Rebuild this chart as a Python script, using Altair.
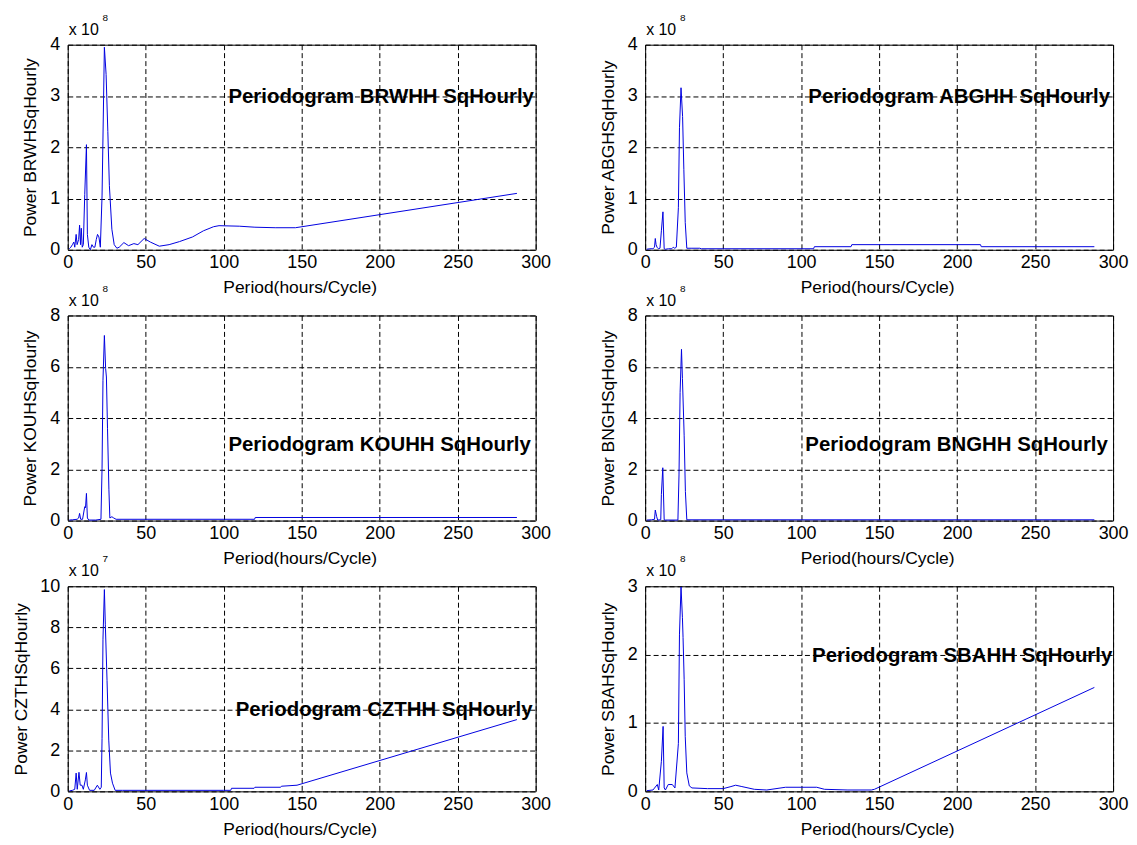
import altair as alt
import pandas as pd

# ---------------- data (period in hours/cycle, power in units of the panel factor) ----------------
X_TICKS = [0, 50, 100, 150, 200, 250, 300]
X_TITLE = "Period(hours/Cycle)"

brw_x = [1, 2, 3, 3.9, 4.5, 5.4, 6, 7, 7.6, 8.2, 8.7, 9.3, 10, 10.9, 12, 12.6, 13.5, 14.5, 15.5, 16.5,
         17.4, 18.3, 19.1, 20, 20.9, 22, 23.5, 24.6, 25.7, 26.7, 28.3, 29.8, 31.5, 33, 36, 39, 42.4, 45,
         49, 53, 58.7, 65, 71.7, 80, 87, 93.5, 97, 110, 120, 133, 146, 288]
brw_y = [0.02, 0.05, 0.1, 0.15, 0.05, 0.3, 0.1, 0.2, 0.48, 0.1, 0.42, 0.05, 0.1, 1.08, 2.05, 0.3, 0.05, 0.0,
         0.1, 0.05, 0.05, 0.2, 0.3, 0.25, 0.05, 1.05, 3.95, 3.42, 2.31, 1.25, 0.4, 0.1, 0.03, 0.05, 0.14, 0.08,
         0.12, 0.1, 0.22, 0.15, 0.07, 0.1, 0.16, 0.25, 0.37, 0.45, 0.47, 0.46, 0.44, 0.43, 0.43, 1.1]

abg_x = [1, 3, 5, 6, 6.5, 7, 7.6, 8.5, 9.5, 10.4, 11.4, 12.2, 13, 15, 17, 18, 19, 20, 21.3, 22, 23, 24,
         24.8, 25.7, 26.7, 30, 35, 36, 108, 108.5, 132, 132.5, 215, 215.5, 288]
abg_y = [0.01, 0.02, 0.02, 0.05, 0.22, 0.1, 0.05, 0.02, 0.03, 0.37, 0.74, 0.02, 0.01, 0.02, 0.02, 0.05, 0.03,
         0.05, 0.82, 2.38, 3.16, 2.6, 1.57, 0.53, 0.03, 0.03, 0.03, 0.02, 0.02, 0.06, 0.06, 0.1, 0.1, 0.06, 0.06]

kou_x = [1, 3, 6, 7, 7.6, 8.3, 9.5, 10.9, 11.4, 12, 12.6, 13.5, 18, 21.3, 22, 22.6, 23.5, 24.3, 24.8, 25.5,
         26.4, 27, 28.3, 29.5, 31, 119.8, 120.2, 288]
kou_y = [0.02, 0.03, 0.05, 0.1, 0.28, 0.05, 0.05, 0.54, 0.5, 1.06, 0.1, 0.02, 0.02, 0.05, 2.04, 5.47, 7.22,
         5.93, 5.6, 3.6, 1.2, 0.1, 0.15, 0.1, 0.05, 0.05, 0.12, 0.12]

bng_x = [1, 4, 6, 6.5, 7.4, 8, 10, 10.4, 11.3, 12.2, 13, 21, 21.7, 22.4, 23.3, 23.9, 25, 25.8, 26.7, 288]
bng_y = [0.02, 0.03, 0.05, 0.41, 0.15, 0.02, 0.03, 1.02, 2.06, 0.03, 0.02, 0.02, 1.78, 5.0, 6.68, 5.54, 3.33,
         1.13, 0.03, 0.03]

czt_x = [1, 3, 4.5, 5.4, 6.1, 7.2, 8, 9.1, 10, 11.3, 12, 12.6, 14, 17, 19, 20.6, 21.5, 22, 22.6, 23.5, 24.1,
         25.2, 26.3, 27.4, 28.7, 30.4, 35, 100, 104.5, 105, 119.5, 120, 136.5, 137, 147, 288]
czt_y = [0.02, 0.05, 0.1, 0.89, 0.1, 0.93, 0.3, 0.3, 0.1, 0.56, 0.92, 0.3, 0.05, 0.05, 0.3, 0.1, 0.2, 2.58,
         7.42, 9.84, 8.15, 5.4, 2.5, 0.89, 0.4, 0.05, 0.05, 0.05, 0.05, 0.15, 0.15, 0.2, 0.2, 0.25, 0.3, 3.5]

sba_x = [1, 5, 7.8, 8.7, 10.4, 11.5, 12.2, 13, 14.8, 17.4, 19.1, 21.3, 22, 23, 23.9, 24.3, 25, 25.7, 26.7,
         28.3, 30, 40, 50, 55, 58, 62, 70, 78, 90, 100, 110, 115, 130, 145, 147, 288]
sba_y = [0.01, 0.02, 0.1, 0.02, 0.44, 0.95, 0.05, 0.02, 0.1, 0.1, 0.05, 0.7, 2.3, 2.99, 2.54, 2.25, 1.64, 0.8,
         0.27, 0.08, 0.05, 0.04, 0.04, 0.07, 0.09, 0.07, 0.03, 0.02, 0.06, 0.06, 0.06, 0.03, 0.02, 0.02, 0.03, 1.52]

series_x = [brw_x, abg_x, kou_x, bng_x, czt_x, sba_x]
series_y = [brw_y, abg_y, kou_y, bng_y, czt_y, sba_y]
y_titles = ["Power BRWHSqHourly", "Power ABGHSqHourly", "Power KOUHSqHourly",
            "Power BNGHSqHourly", "Power CZTHSqHourly", "Power SBAHSqHourly"]
plot_titles = ["Periodogram BRWHH SqHourly", "Periodogram ABGHH SqHourly", "Periodogram KOUHH SqHourly",
               "Periodogram BNGHH SqHourly", "Periodogram CZTHH SqHourly", "Periodogram SBAHH SqHourly"]
y_max = [4, 4, 8, 8, 10, 3]
y_step = [1, 1, 2, 2, 2, 1]
exponents = ["8", "8", "8", "8", "7", "8"]
title_x = [103, 104.6, 103, 102.7, 107.7, 107]
title_y = [3, 3, 3, 3, 4, 2]

# ---------------- styling ----------------
W, H = 470, 206
LINE_BLUE = "#0000e0"
SANS = "Liberation Sans, Arial, Helvetica, sans-serif"


def make_panel(i, anchor=False):
    ymax = y_max[i]
    df = pd.DataFrame({"period": series_x[i], "power": series_y[i]})
    x_enc = alt.X("period:Q",
                  scale=alt.Scale(domain=[0, 300], nice=False, zero=False),
                  axis=alt.Axis(values=X_TICKS, title=X_TITLE, titleX=233, titleY=38,
                                titleBaseline="middle", labelPadding=4, labelFlush=False,
                                labelOverlap=False, format="d"))
    y_enc = alt.Y("power:Q",
                  scale=alt.Scale(domain=[0, ymax], nice=False),
                  axis=alt.Axis(values=list(range(0, ymax + 1, y_step[i])), title=y_titles[i],
                                titleX=-46 if ymax >= 10 else -37, titleY=H / 2, titleAngle=270,
                                titleBaseline="middle", titleAlign="center", labelPadding=8,
                                labelOverlap=False, format="d"))
    line = alt.Chart(df).mark_line(color=LINE_BLUE, strokeWidth=1).encode(x=x_enc, y=y_enc)

    lab = pd.DataFrame({"period": [title_x[i]], "power": [title_y[i]], "label": [plot_titles[i]]})
    txt = alt.Chart(lab).mark_text(align="left", baseline="alphabetic", dy=7, font=SANS, fontSize=20.5,
                                   fontWeight="bold", color="black").encode(x=x_enc, y=y_enc, text="label:N")

    e1 = alt.Chart(pd.DataFrame({"t": ["x 10"]})).mark_text(
        align="left", baseline="alphabetic", font=SANS, fontSize=16, color="black"
    ).encode(x=alt.value(1), y=alt.value(-10), text="t:N")
    e2 = alt.Chart(pd.DataFrame({"t": [exponents[i]]})).mark_text(
        align="left", baseline="alphabetic", font=SANS, fontSize=10, color="black"
    ).encode(x=alt.value(35), y=alt.value(-24), text="t:N")

    layers = [line, txt, e1, e2]
    if anchor:
        a = alt.Chart(pd.DataFrame({"t": [0]})).mark_rule(opacity=0, strokeWidth=1).encode(
            x=alt.value(-59), x2=alt.value(-58), y=alt.value(-34), y2=alt.value(-34))
        layers.append(a)
    return alt.layer(*layers).properties(width=W, height=H)


panels = [make_panel(i, anchor=(i == 0)) for i in range(6)]

chart = alt.concat(*panels, columns=2, spacing={"row": 66, "column": 110}, bounds="flush").properties(
    padding=0, background="white"
).configure_view(
    stroke="black", strokeWidth=1
).configure_axis(
    grid=True, gridColor="black", gridDash=[5, 3], gridWidth=1, gridOpacity=1,
    domain=False, ticks=False, tickSize=0,
    labelFont=SANS, labelFontSize=18, labelColor="black",
    titleFont=SANS, titleFontSize=17.5, titleFontWeight="normal", titleColor="black"
)

chart.save("out.html", embed_options={"renderer": "svg", "actions": False})
